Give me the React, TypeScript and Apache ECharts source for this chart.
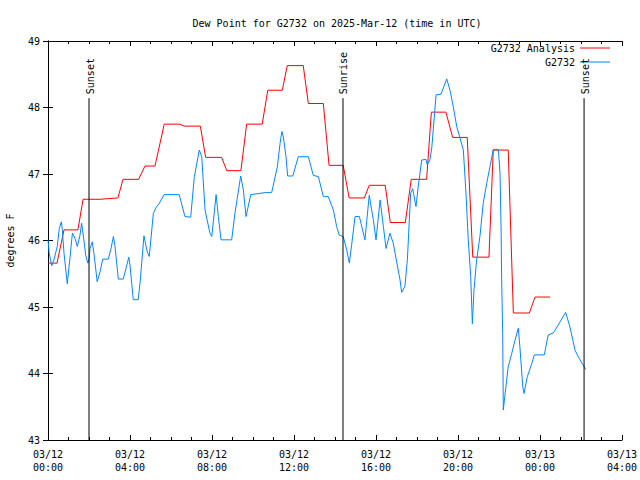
import React, { useEffect, useRef } from "react";
import * as echarts from "echarts";

const titleText = "Dew Point for G2732 on 2025-Mar-12 (time in UTC)";
const yAxisName = "degrees F";
const xTickLabels = [
  "03/12\n00:00", "03/12\n04:00", "03/12\n08:00", "03/12\n12:00",
  "03/12\n16:00", "03/12\n20:00", "03/13\n00:00", "03/13\n04:00",
];
const seriesNames = ["G2732 Analysis", "G2732"];

// hours since 2025-03-12 00:00 UTC
const analysisHours = [
  0.0, 0.44, 0.78, 1.46, 1.71, 2.54, 3.41, 3.66, 4.42, 4.73, 5.22, 5.67, 6.44, 6.63, 7.43,
  7.69, 8.47, 8.72, 9.41, 9.69, 10.45, 10.72, 11.43, 11.67, 12.45, 12.7, 13.43, 13.71, 14.4,
  14.69, 15.43, 15.67, 16.45, 16.7, 17.43, 17.72, 18.47, 18.7, 19.41, 19.74, 20.45, 20.72,
  21.51, 21.72, 22.45, 22.7, 23.48, 23.76, 24.49,
];
const analysisValues = [
  45.66, 45.66, 46.16, 46.16, 46.62, 46.62, 46.64, 46.92, 46.92, 47.12, 47.12, 47.75, 47.75, 47.72, 47.72,
  47.25, 47.25, 47.05, 47.05, 47.75, 47.75, 48.26, 48.26, 48.63, 48.63, 48.06, 48.06, 47.13, 47.13,
  46.64, 46.64, 46.83, 46.83, 46.27, 46.27, 46.92, 46.92, 47.93, 47.93, 47.55, 47.55, 45.75,
  45.75, 47.36, 47.36, 44.91, 44.91, 45.15, 45.15,
];

const obsHours = [
  0.0, 0.06, 0.18, 0.29, 0.45, 0.55, 0.65, 0.7, 0.78, 0.94, 1.07, 1.19, 1.32, 1.43, 1.56, 1.64,
  1.72, 1.84, 1.94, 2.01, 2.05, 2.16, 2.24, 2.4, 2.54, 2.67, 2.94, 3.06, 3.19, 3.27, 3.43, 3.67,
  3.87, 3.94, 4.0, 4.16, 4.4, 4.49, 4.68, 4.84, 4.94, 5.14, 5.3, 5.43, 5.66, 6.4, 6.68, 6.96,
  7.14, 7.38, 7.5, 7.66, 7.9, 7.99, 8.2, 8.31, 8.44, 8.96, 9.12, 9.4, 9.53, 9.66, 9.89, 10.59,
  10.91, 11.19, 11.32, 11.41, 11.48, 11.61, 11.69, 11.94, 12.21, 12.7, 12.94, 13.19, 13.43,
  13.67, 13.92, 14.08, 14.21, 14.4, 14.57, 14.7, 14.81, 14.98, 15.19, 15.46, 15.67, 15.87, 16.0,
  16.2, 16.36, 16.49, 16.68, 16.84, 17.17, 17.25, 17.41, 17.53, 17.69, 17.79, 17.95, 18.06,
  18.23, 18.44, 18.5, 18.63, 18.72, 18.93, 19.17, 19.45, 19.61, 19.77, 19.94, 20.1, 20.26,
  20.39, 20.5, 20.62, 20.7, 20.78, 20.91, 21.07, 21.23, 21.4, 21.56, 21.72, 21.97, 22.05, 22.1,
  22.13, 22.18, 22.21, 22.28, 22.45, 22.62, 22.78, 22.94, 23.02, 23.16, 23.22, 23.38, 23.6,
  23.72, 24.21, 24.4, 24.65, 24.89, 25.25, 25.46, 25.71, 25.87, 26.08, 26.23,
];
const obsValues = [
  46.01, 45.81, 45.62, 45.71, 45.91, 46.18, 46.28, 46.16, 45.81, 45.35, 45.73, 46.11, 46.03, 45.91, 46.08, 46.26,
  46.08, 45.78, 45.66, 45.73, 45.88, 45.98, 45.81, 45.38, 45.53, 45.72, 45.72, 45.86, 46.06, 45.91, 45.42, 45.42,
  45.66, 45.75, 45.63, 45.11, 45.11, 45.36, 46.07, 45.83, 45.76, 46.41, 46.51, 46.56, 46.69, 46.69, 46.36, 46.35,
  46.96, 47.36, 47.26, 46.46, 46.11, 46.06, 46.69, 46.36, 46.01, 46.01, 46.41, 46.97, 46.76, 46.36, 46.69, 46.72,
  46.72, 47.11, 47.46, 47.64, 47.56, 47.26, 46.97, 46.97, 47.26, 47.26, 46.98, 46.96, 46.66,
  46.66, 46.46, 46.21, 46.08, 46.06, 45.86, 45.66, 45.93, 46.36, 46.36, 46.01, 46.68, 46.31, 46.01,
  46.61, 46.21, 45.88, 46.11, 45.96, 45.41, 45.22, 45.31, 45.71, 46.71, 46.78, 46.51, 46.81,
  47.21, 47.22, 47.14, 47.21, 47.39, 48.19, 48.2, 48.43, 48.26, 48.01, 47.71, 47.54, 47.36,
  46.71, 46.01, 45.46, 44.75, 45.26, 45.71, 46.06, 46.56, 46.86, 47.11, 47.37, 47.37, 47.01, 46.21,
  45.41, 44.6, 43.45, 43.65, 44.1, 44.3, 44.5, 44.68, 44.4, 43.8, 43.7, 43.95, 44.15,
  44.28, 44.28, 44.58, 44.61, 44.73, 44.92, 44.7, 44.35, 44.25, 44.14, 44.06,
];

const eventHours = [2.0, 14.39, 26.15];
const eventNames = ["Sunset", "Sunrise", "Sunset"];
const eventTop = 48.14;

const FONT = "DejaVu Sans Mono";

export default function App() {
  const ref = useRef<HTMLDivElement>(null);
  useEffect(() => {
    document.body.style.margin = "0";
    const chart = echarts.init(ref.current!, null, { renderer: "svg" });
    const analysisData = analysisHours.map((h, i) => [h, analysisValues[i]]);
    const obsData = obsHours.map((h, i) => [h, obsValues[i]]);
    const eventData = eventHours.map((h, i) => [h, i]);

    const axisCommon = {
      axisLine: { show: true, lineStyle: { color: "#000", width: 1 } },
      splitLine: { show: false },
    };

    chart.setOption({
      animation: false,
      backgroundColor: "#fff",
      title: {
        text: titleText,
        left: 332,
        textAlign: "center",
        top: 13,
        textStyle: { fontFamily: FONT, fontSize: 10, fontWeight: "normal", color: "#000" },
      },
      legend: [
        {
          data: [seriesNames[0]],
          right: 30,
          top: 43,
          align: "right",
          icon: "rect",
          itemWidth: 30,
          itemHeight: 1,
          padding: 0,
          textStyle: { fontFamily: FONT, fontSize: 10, color: "#000" },
        },
        {
          data: [seriesNames[1]],
          right: 30,
          top: 57,
          align: "right",
          icon: "rect",
          itemWidth: 30,
          itemHeight: 1,
          padding: 0,
          textStyle: { fontFamily: FONT, fontSize: 10, color: "#000" },
        },
      ],
      grid: { left: 48, right: 18, top: 41, bottom: 40, containLabel: false, outerBoundsMode: "none" },
      xAxis: [
        {
          type: "value",
          min: 0,
          max: 28,
          interval: 4,
          position: "bottom",
          ...axisCommon,
          axisTick: { show: true, inside: true, length: 5, lineStyle: { color: "#000" } },
          minorTick: { show: true, splitNumber: 4, length: 3, lineStyle: { color: "#000" } },
          axisLabel: {
            fontFamily: FONT,
            fontSize: 10,
            color: "#000",
            lineHeight: 13,
            margin: 8,
            formatter: (v: number) => xTickLabels[Math.round(v / 4)] ?? "",
          },
        },
        {
          type: "value",
          min: 0,
          max: 28,
          interval: 4,
          position: "top",
          ...axisCommon,
          axisTick: { show: true, inside: true, length: 5, lineStyle: { color: "#000" } },
          minorTick: { show: true, splitNumber: 4, length: 3, lineStyle: { color: "#000" } },
          axisLabel: { show: false },
        },
      ],
      yAxis: [
        {
          type: "value",
          min: 43,
          max: 49,
          interval: 1,
          position: "left",
          name: yAxisName,
          nameLocation: "middle",
          nameGap: 33,
          nameRotate: 90,
          nameTextStyle: { fontFamily: FONT, fontSize: 10, color: "#000" },
          ...axisCommon,
          axisTick: { show: true, inside: true, length: 5, lineStyle: { color: "#000" } },
          axisLabel: { fontFamily: FONT, fontSize: 10, color: "#000", margin: 8 },
        },
        {
          type: "value",
          min: 43,
          max: 49,
          interval: 1,
          position: "right",
          ...axisCommon,
          axisTick: { show: true, inside: true, length: 5, lineStyle: { color: "#000" } },
          axisLabel: { show: false },
        },
      ],
      series: [
        {
          name: seriesNames[0],
          type: "line",
          data: analysisData,
          showSymbol: false,
          symbol: "none",
          lineStyle: { color: "#ff0000", width: 1 },
          itemStyle: { color: "#ff0000" },
          z: 3,
        },
        {
          name: seriesNames[1],
          type: "line",
          data: obsData,
          showSymbol: false,
          symbol: "none",
          lineStyle: { color: "#0088ff", width: 1 },
          itemStyle: { color: "#0088ff" },
          z: 4,
        },
        {
          type: "custom",
          name: "events",
          silent: true,
          clip: false,
          data: eventData,
          encode: { x: 0, y: 1 },
          z: 5,
          renderItem: (params: any, api: any) => {
            const h = api.value(0);
            const idx = params.dataIndex;
            const bottom = api.coord([h, 43]);
            const top = api.coord([h, eventTop]);
            return {
              type: "group",
              children: [
                {
                  type: "line",
                  shape: { x1: bottom[0], y1: bottom[1], x2: top[0], y2: top[1] },
                  style: { stroke: "#000", lineWidth: 1 },
                },
                {
                  type: "text",
                  x: top[0] + 1,
                  y: top[1] - 4,
                  rotation: Math.PI / 2,
                  style: {
                    text: eventNames[idx],
                    fill: "#000",
                    font: `10px '${FONT}'`,
                    align: "left",
                    verticalAlign: "middle",
                    textAlign: "left",
                    textVerticalAlign: "middle",
                  },
                },
              ],
            };
          },
        },
      ],
    });
    return () => chart.dispose();
  }, []);
  return <div ref={ref} style={{ width: 640, height: 480 }} />;
}
